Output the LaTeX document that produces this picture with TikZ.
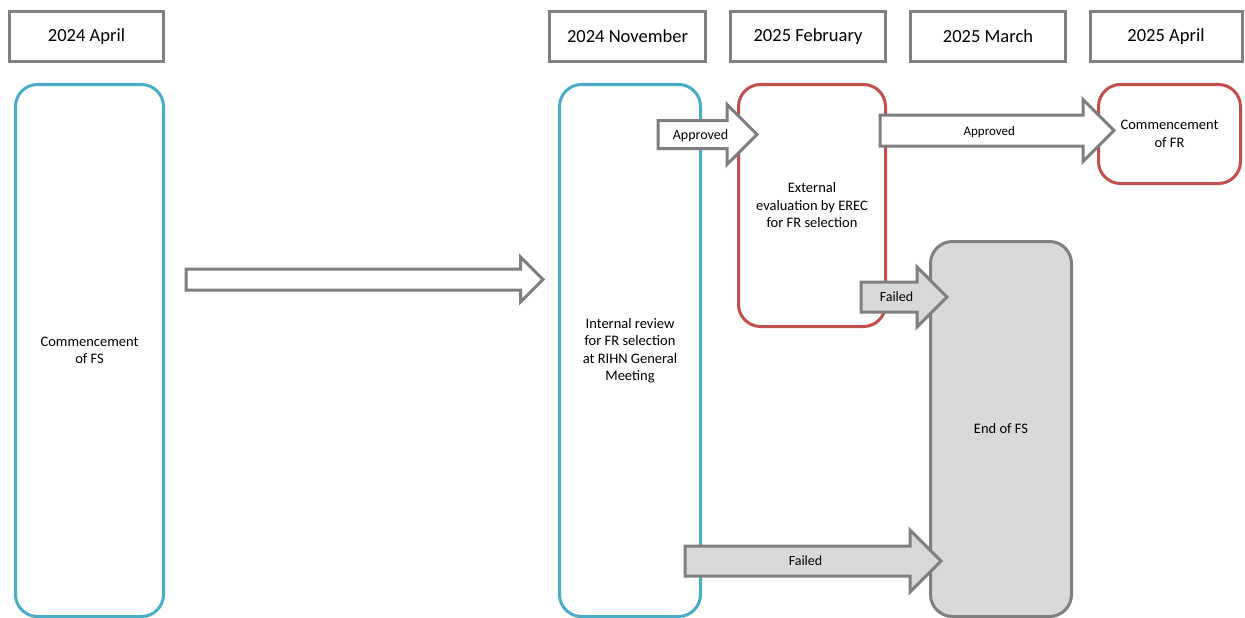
\documentclass[tikz,border=0pt]{standalone}
\usepackage{fontspec}
\setmainfont{Carlito}
\usetikzlibrary{shapes.arrows}
\definecolor{rihnblue}{HTML}{4BACC6}
\definecolor{rihnred}{HTML}{C0504D}
\definecolor{rihngray}{HTML}{7F7F7F}
\definecolor{rihnfill}{HTML}{D9D9D9}
\begin{document}
\begin{tikzpicture}[x=1pt, y=-1pt,
        month/.style={draw=rihngray, line width=3pt, minimum height=50pt, inner sep=0pt, font=\fontsize{18.5}{22}\selectfont},
        stage/.style={draw=#1, line width=3pt, rounded corners=22pt, inner sep=0pt, align=center, font=\fontsize{14.5}{17.5}\selectfont},
        blockarrow/.style={single arrow, draw=rihngray, line width=3pt, anchor=tail, inner xsep=0pt, text height=9pt, text depth=0pt, font=\fontsize{14}{17}\selectfont}]
    \clip (0,0) rectangle (1245,618);
    \fill[white] (0,0) rectangle (1245,618);
    % month headers
    \foreach \name/\x/\w/\txt in {hApr24/86.5/154/2024 April, hNov24/627.5/156/2024 November, hFeb25/808/155/2025 February, hMar25/988/155/2025 March, hApr25/1166/152/2025 April} {
            \node[month, minimum width=\w pt] (\name) at (\x,36.5) {\txt};
        }
    % stages
    \node[stage=rihnblue, minimum width=148pt, minimum height=532pt] (fsStart) at (89.5,350.5) {Commencement\\of FS};
    \node[stage=rihnblue, minimum width=141pt, minimum height=532pt] (review) at (630,350.5) {Internal review\\for FR selection\\at RIHN General\\Meeting};
    \node[stage=rihnred, minimum width=147pt, minimum height=242pt] (external) at (812,205.5) {External\\evaluation by EREC\\for FR selection};
    \node[stage=rihnred, minimum width=142pt, minimum height=99pt] (frStart) at (1169.5,134) {Commencement\\of FR};
    \node[stage=rihngray, fill=rihnfill, minimum width=141pt, minimum height=375pt] (fsEnd) at (1001,429) {End of FS};
    % arrows
    \node[blockarrow, fill=white, minimum height=357pt, inner ysep=4.5pt, single arrow head extend=12pt] (toReview) at (184.5,279.5) {};
    \node[blockarrow, fill=white, minimum height=99pt, inner ysep=8pt, single arrow head extend=16pt] (okReview) at (656.5,134.5) {Approved};
    \node[blockarrow, fill=white, minimum height=234pt, inner ysep=9.5pt, single arrow head extend=15.5pt, font=\fontsize{13}{16}\selectfont] (okExternal) at (878.5,130.5) {Approved};
    \node[blockarrow, fill=rihnfill, minimum height=86pt, inner ysep=9pt, single arrow head extend=15pt] (failExternal) at (859.5,297) {Failed};
    \node[blockarrow, fill=rihnfill, minimum height=256pt, inner ysep=9pt, single arrow head extend=16pt] (failReview) at (683.5,561) {Failed};
\end{tikzpicture}
\end{document}
